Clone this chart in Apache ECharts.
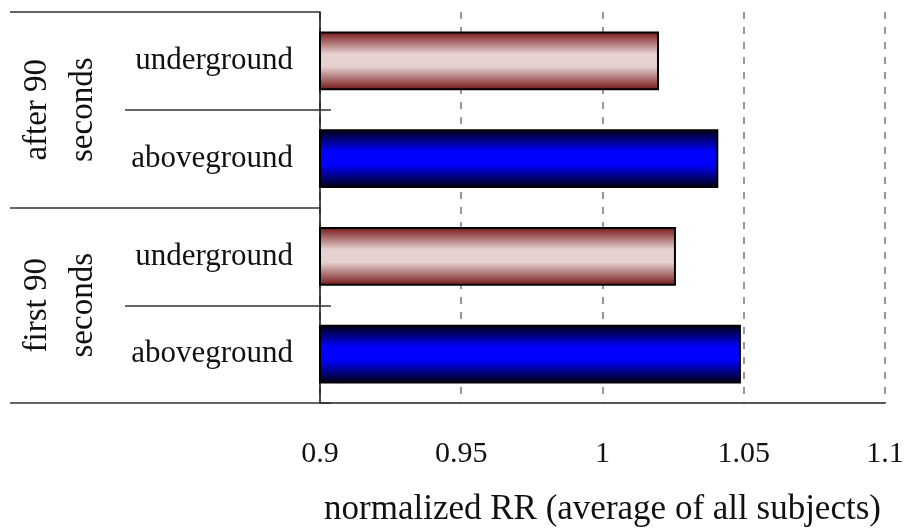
<!DOCTYPE html>
<html>
<head>
<meta charset="utf-8">
<script src="https://cdn.jsdelivr.net/npm/echarts@6/dist/echarts.min.js"></script>
<style>
  html, body { margin: 0; padding: 0; background: #fff; }
  #main { width: 905px; height: 529px; }
</style>
</head>
<body>
<div id="main"></div>
<script>
// data, top to bottom
var groups = ['after 90\nseconds', 'first 90\nseconds'];
var conditions = ['underground', 'aboveground', 'underground', 'aboveground'];
var rrValues = [1.020, 1.041, 1.026, 1.049];
var xMin = 0.9, xMax = 1.1, xStep = 0.05;

var font = 'Liberation Serif';

function barFill(edge, mid) {
    return new echarts.graphic.LinearGradient(0, 0, 0, 1, [
        { offset: 0, color: edge },
        { offset: 0.38, color: mid },
        { offset: 0.6, color: mid },
        { offset: 1, color: edge }
    ]);
}
var fills = {
    underground: barFill('#741414', '#e6d0d0'),
    aboveground: barFill('#00000c', '#0000ff')
};

var myChart = echarts.init(document.getElementById('main'));
myChart.setOption({
    backgroundColor: '#fff',
    animation: false,
    grid: { left: 320, right: 20, top: 12, bottom: 126, containLabel: false, outerBoundsMode: 'none' },
    xAxis: {
        type: 'value',
        min: xMin,
        max: xMax,
        interval: xStep,
        axisLine: { show: true, lineStyle: { color: '#222', width: 1.5 } },
        axisTick: { show: false },
        splitLine: { show: true, lineStyle: { color: '#777', width: 1.5, type: [7, 8] } },
        axisLabel: { color: '#111', fontFamily: font, fontSize: 30, margin: 36 },
        name: 'normalized RR (average of all subjects)',
        nameLocation: 'middle',
        nameGap: 89,
        nameTextStyle: { color: '#111', fontFamily: font, fontSize: 35 }
    },
    yAxis: [{
        // inner categories
        type: 'category',
        inverse: true,
        data: conditions,
        position: 'left',
        axisLine: { show: true, lineStyle: { color: '#111', width: 1.5 } },
        axisTick: { show: true, length: 195, lineStyle: { color: '#333', width: 1.5 } },
        axisLabel: { interval: 0, color: '#111', fontFamily: font, fontSize: 31, margin: 27 },
        splitLine: { show: false }
    }, {
        // outer groups
        type: 'category',
        inverse: true,
        data: groups,
        position: 'left',
        axisLine: { show: false },
        axisTick: { show: true, length: 310, lineStyle: { color: '#333', width: 1.5 } },
        axisLabel: { interval: 0, rotate: 90, color: '#111', fontFamily: font, fontSize: 33, lineHeight: 46, margin: 214 },
        splitLine: { show: false }
    }, {
        // short stubs of the inner separators inside the plot
        type: 'category',
        inverse: true,
        data: conditions,
        position: 'left',
        axisLine: { show: false },
        axisTick: {
            show: true, inside: true, length: 11,
            interval: function (i) { return i % 2 === 1; },
            lineStyle: { color: '#333', width: 1.5 }
        },
        axisLabel: { show: false },
        splitLine: { show: false }
    }],
    series: [{
        type: 'bar',
        yAxisIndex: 0,
        barWidth: '60%',
        data: rrValues.map(function (v, i) {
            return {
                value: v,
                itemStyle: { color: fills[conditions[i]], borderColor: '#000', borderWidth: 2 }
            };
        })
    }]
});
</script>
</body>
</html>
